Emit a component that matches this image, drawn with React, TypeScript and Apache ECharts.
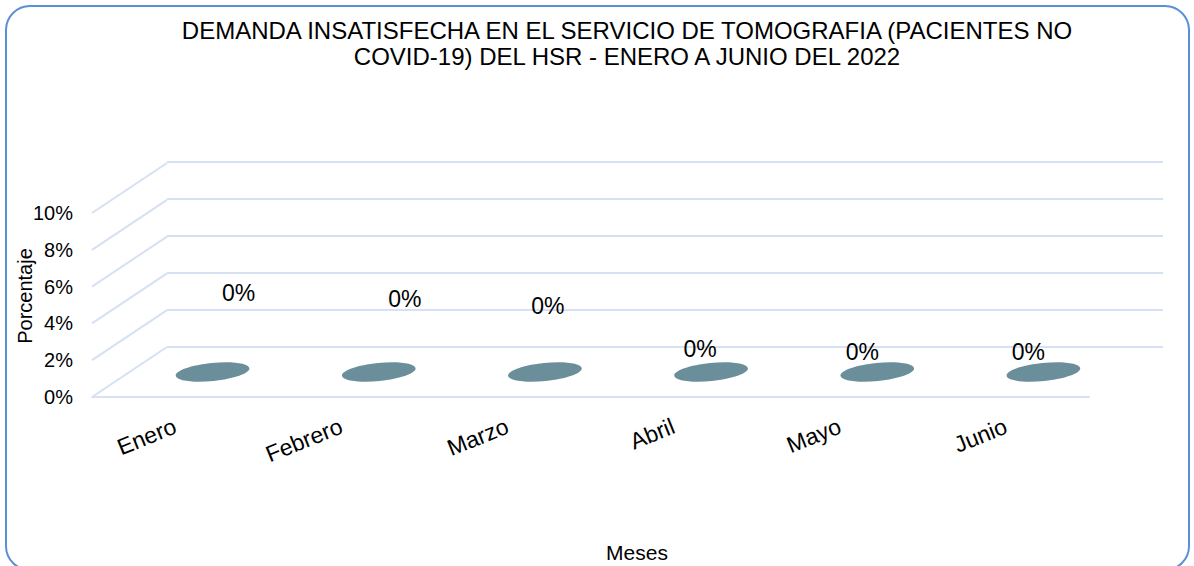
import React, { useEffect, useRef } from "react";
import * as echarts from "echarts";

const titleLines = [
  "DEMANDA INSATISFECHA EN EL SERVICIO DE TOMOGRAFIA (PACIENTES NO",
  "COVID-19) DEL HSR - ENERO A JUNIO DEL 2022",
];
const months = ["Enero", "Febrero", "Marzo", "Abril", "Mayo", "Junio"];
const percentValues = [0, 0, 0, 0, 0, 0];
const yTicks = [0, 2, 4, 6, 8, 10];
const yAxisTitle = "Porcentaje";
const xAxisTitle = "Meses";

// label placement relative to the top of each cylinder (style only)
const labelShift: [number, number][] = [
  [26, -79],
  [26, -73],
  [3, -66],
  [-11, -23],
  [-15, -20],
  [-15, -20],
];

const FONT = "'Liberation Sans', Arial, sans-serif";
const GRID_COLOR = "#D6E1F3";
const BAR_COLOR = "#6A8F9A";
const DEPTH_X = 75;
const DEPTH_Y = -50;

export default function App() {
  const ref = useRef<HTMLDivElement>(null);
  useEffect(() => {
    if (!ref.current) return;
    const chart = echarts.init(ref.current, undefined, { renderer: "svg" });
    const option: any = {
      animation: false,
      backgroundColor: "#ffffff",
      textStyle: { fontFamily: FONT },
      title: {
        text: titleLines.join("\n"),
        left: 622,
        top: 12,
        textAlign: "center",
        textStyle: {
          fontFamily: FONT,
          fontSize: 24,
          fontWeight: "normal",
          color: "#000",
          lineHeight: 26,
        },
      },
      grid: [
        { left: 92, right: 105, top: 213, bottom: 169 },
        { left: 167, right: 31, top: 162, bottom: 219 },
      ],
      xAxis: [
        {
          type: "category",
          gridIndex: 0,
          data: months,
          axisLine: { show: true, lineStyle: { color: GRID_COLOR, width: 2 } },
          axisTick: { show: false },
          axisLabel: {
            rotate: 22,
            margin: 28,
            fontSize: 23,
            color: "#000",
            fontFamily: FONT,
          },
        },
        {
          type: "category",
          gridIndex: 1,
          data: months,
          axisLine: { show: false },
          axisTick: { show: false },
          axisLabel: { show: false },
        },
      ],
      yAxis: [
        {
          type: "value",
          gridIndex: 0,
          min: 0,
          max: 10,
          interval: 2,
          axisLine: { show: false },
          axisTick: { show: false },
          splitLine: { show: false },
          axisLabel: {
            formatter: "{value}%",
            fontSize: 20,
            margin: 19,
            color: "#000",
            fontFamily: FONT,
          },
        },
        {
          type: "value",
          gridIndex: 1,
          min: 0,
          max: 10,
          interval: 2,
          axisLine: { show: false },
          axisTick: { show: false },
          axisLabel: { show: false },
          splitLine: { show: true, lineStyle: { color: GRID_COLOR, width: 2 } },
        },
      ],
      series: [
        {
          type: "custom",
          name: "depth",
          xAxisIndex: 0,
          yAxisIndex: 0,
          data: yTicks.map((v) => [0, v]),
          silent: true,
          renderItem: (params: any, api: any) => {
            const v = api.value(1);
            const p = api.coord([0, v]);
            const band = api.size([1, 0])[0];
            const x0 = p[0] - band / 2;
            return {
              type: "line",
              shape: { x1: x0, y1: p[1], x2: x0 + DEPTH_X, y2: p[1] + DEPTH_Y },
              style: { stroke: GRID_COLOR, lineWidth: 2 },
            };
          },
        },
        {
          type: "custom",
          name: "Porcentaje",
          xAxisIndex: 0,
          yAxisIndex: 0,
          data: percentValues.map((v, i) => [i, v]),
          renderItem: (params: any, api: any) => {
            const i = api.value(0);
            const v = api.value(1);
            const p = api.coord([i, v]);
            const cx = p[0] + DEPTH_X / 2;
            const cy = p[1] + DEPTH_Y / 2;
            const sh = labelShift[params.dataIndex] || [0, -20];
            return {
              type: "group",
              children: [
                {
                  type: "ellipse",
                  x: cx,
                  y: cy,
                  rotation: 0.1,
                  shape: { cx: 0, cy: 0, rx: 37, ry: 9 },
                  style: { fill: BAR_COLOR },
                },
                {
                  type: "text",
                  x: cx + sh[0],
                  y: cy + sh[1],
                  style: {
                    text: v + "%",
                    fontSize: 23,
                    fontFamily: FONT,
                    fill: "#000",
                    align: "center",
                    verticalAlign: "middle",
                  },
                },
              ],
            };
          },
        },
      ],
      graphic: [
        {
          type: "rect",
          shape: { x: 6, y: 6, width: 1183, height: 564, r: 24 },
          style: { fill: "none", stroke: "#5B8FD8", lineWidth: 2 },
          silent: true,
        },
        {
          type: "text",
          x: 25,
          y: 296,
          rotation: Math.PI / 2,
          style: {
            text: yAxisTitle,
            fontSize: 20,
            fontFamily: FONT,
            fill: "#000",
            align: "center",
            verticalAlign: "middle",
          },
        },
        {
          type: "text",
          x: 637,
          y: 552,
          style: {
            text: xAxisTitle,
            fontSize: 21,
            fontFamily: FONT,
            fill: "#000",
            align: "center",
            verticalAlign: "middle",
          },
        },
      ],
    };
    chart.setOption(option);
    return () => chart.dispose();
  }, []);
  return (
    <div
      ref={ref}
      style={{ position: "absolute", left: 0, top: 0, width: 1194, height: 566 }}
    />
  );
}
